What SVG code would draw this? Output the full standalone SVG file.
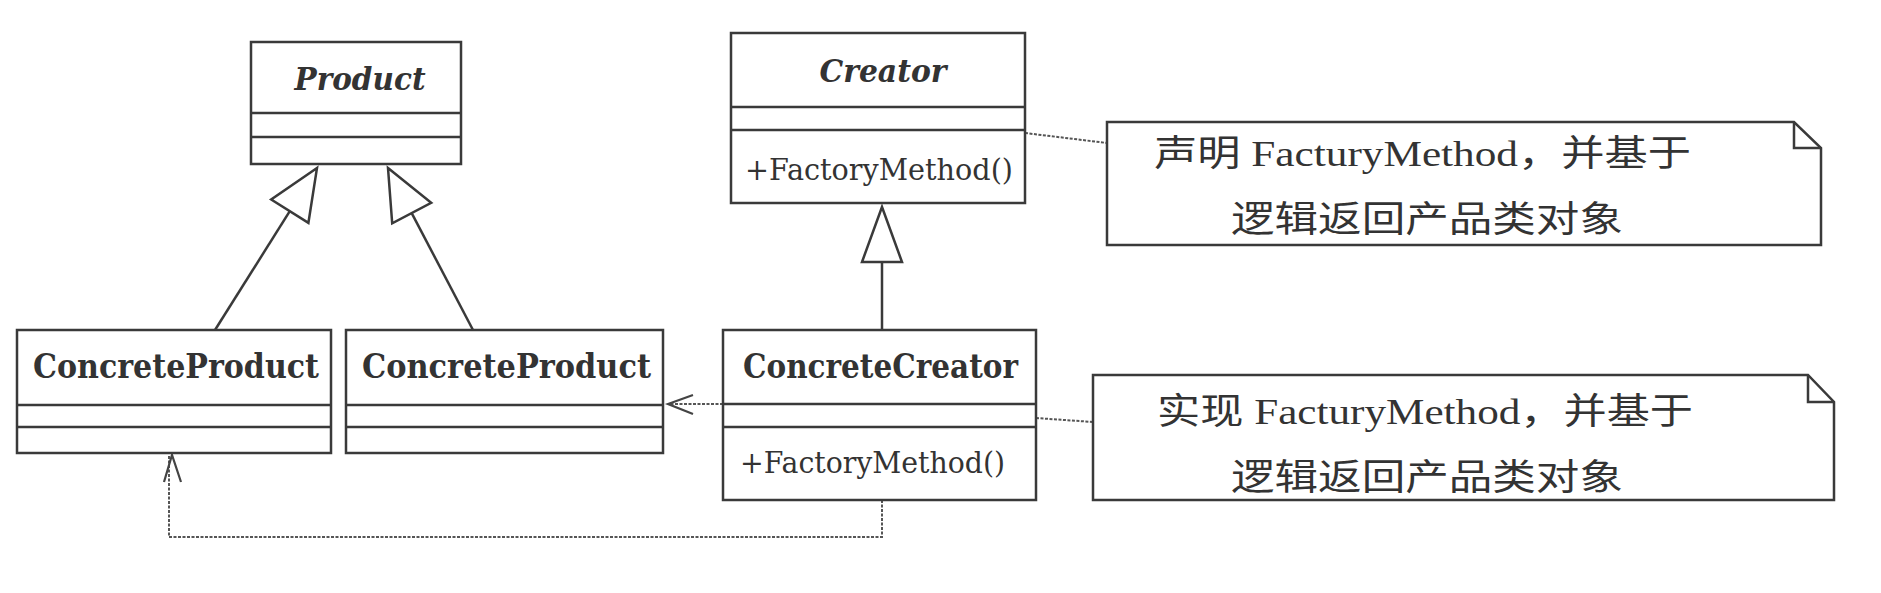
<svg xmlns="http://www.w3.org/2000/svg" width="1881" height="593" viewBox="0 0 1881 593">
<style>
.box{fill:#fff;stroke:#3a3a3a;stroke-width:2.5}
.ln{fill:none;stroke:#3a3a3a;stroke-width:2.5}
.tri{fill:#fff;stroke:#3a3a3a;stroke-width:2.5;stroke-linejoin:miter}
.dash{fill:none;stroke:#555;stroke-width:2;stroke-dasharray:3 1.5}
.arr{fill:none;stroke:#444;stroke-width:2.2}
.abs{font-family:"DejaVu Serif",serif;font-weight:bold;font-style:italic;font-size:31px;fill:#333;text-anchor:middle}
.cls{font-family:"DejaVu Serif",serif;font-weight:bold;font-size:33px;fill:#333}
.op{font-family:"DejaVu Serif",serif;font-size:29px;fill:#333}
.note{font-family:"Liberation Serif","Noto Sans CJK SC",serif;font-size:36px;fill:#333}
</style>
<rect width="1881" height="593" fill="#fff"/>
<g id="connectors">
  <line class="ln" x1="215" y1="330" x2="289.8" y2="211.2"/>
  <polygon class="tri" points="317,168 271.2,199.5 308.4,222.9"/>
  <line class="ln" x1="473" y1="330" x2="411.7" y2="213.1"/>
  <polygon class="tri" points="388,168 431.2,202.9 392.2,223.3"/>
  <line class="ln" x1="882" y1="262" x2="882" y2="330"/>
  <polygon class="tri" points="882,207 862,262 902,262"/>
  <line class="dash" x1="723" y1="404" x2="668" y2="404"/>
  <polyline class="arr" points="693,395 668,404 693,414"/>
  <polyline class="dash" points="882,500 882,537 169,537 169,456"/>
  <polyline class="arr" points="164,482 172,455 181,482"/>
  <line class="dash" x1="1025" y1="133" x2="1107" y2="143"/>
  <line class="dash" x1="1036" y1="418" x2="1093" y2="422"/>
</g>
<g id="product">
  <rect class="box" x="251" y="42" width="210" height="122"/>
  <line class="ln" x1="251" y1="113" x2="461" y2="113"/>
  <line class="ln" x1="251" y1="137" x2="461" y2="137"/>
  <text class="abs" x="360" y="90" textLength="131" lengthAdjust="spacingAndGlyphs">Product</text>
</g>
<g id="concreteProduct1">
  <rect class="box" x="17" y="330" width="314" height="123"/>
  <line class="ln" x1="17" y1="405" x2="331" y2="405"/>
  <line class="ln" x1="17" y1="427" x2="331" y2="427"/>
  <text class="cls" x="33" y="378" textLength="286" lengthAdjust="spacingAndGlyphs">ConcreteProduct</text>
</g>
<g id="concreteProduct2">
  <rect class="box" x="346" y="330" width="317" height="123"/>
  <line class="ln" x1="346" y1="405" x2="663" y2="405"/>
  <line class="ln" x1="346" y1="427" x2="663" y2="427"/>
  <text class="cls" x="362" y="378" textLength="289" lengthAdjust="spacingAndGlyphs">ConcreteProduct</text>
</g>
<g id="creator">
  <rect class="box" x="731" y="33" width="294" height="170"/>
  <line class="ln" x1="731" y1="107" x2="1025" y2="107"/>
  <line class="ln" x1="731" y1="130" x2="1025" y2="130"/>
  <text class="abs" x="883" y="82" textLength="127" lengthAdjust="spacingAndGlyphs">Creator</text>
  <text class="op" x="745" y="180" textLength="268" lengthAdjust="spacingAndGlyphs">+FactoryMethod()</text>
</g>
<g id="concreteCreator">
  <rect class="box" x="723" y="330" width="313" height="170"/>
  <line class="ln" x1="723" y1="404" x2="1036" y2="404"/>
  <line class="ln" x1="723" y1="427" x2="1036" y2="427"/>
  <text class="cls" x="743" y="378" textLength="275" lengthAdjust="spacingAndGlyphs">ConcreteCreator</text>
  <text class="op" x="740" y="473" textLength="265" lengthAdjust="spacingAndGlyphs">+FactoryMethod()</text>
</g>
<g id="note1">
  <path class="box" d="M1107,122 H1794 L1821,148 V245 H1107 Z"/>
  <polyline class="ln" points="1794,122 1794,148 1821,148"/>
  <text class="note" x="1154" y="166" textLength="537" lengthAdjust="spacingAndGlyphs">声明 FacturyMethod，并基于</text>
  <text class="note" x="1231" y="232" textLength="392" lengthAdjust="spacingAndGlyphs">逻辑返回产品类对象</text>
</g>
<g id="note2">
  <path class="box" d="M1093,375 H1808 L1834,402 V500 H1093 Z"/>
  <polyline class="ln" points="1808,375 1808,402 1834,402"/>
  <text class="note" x="1157" y="424" textLength="536" lengthAdjust="spacingAndGlyphs">实现 FacturyMethod，并基于</text>
  <text class="note" x="1231" y="490" textLength="392" lengthAdjust="spacingAndGlyphs">逻辑返回产品类对象</text>
</g>
</svg>
